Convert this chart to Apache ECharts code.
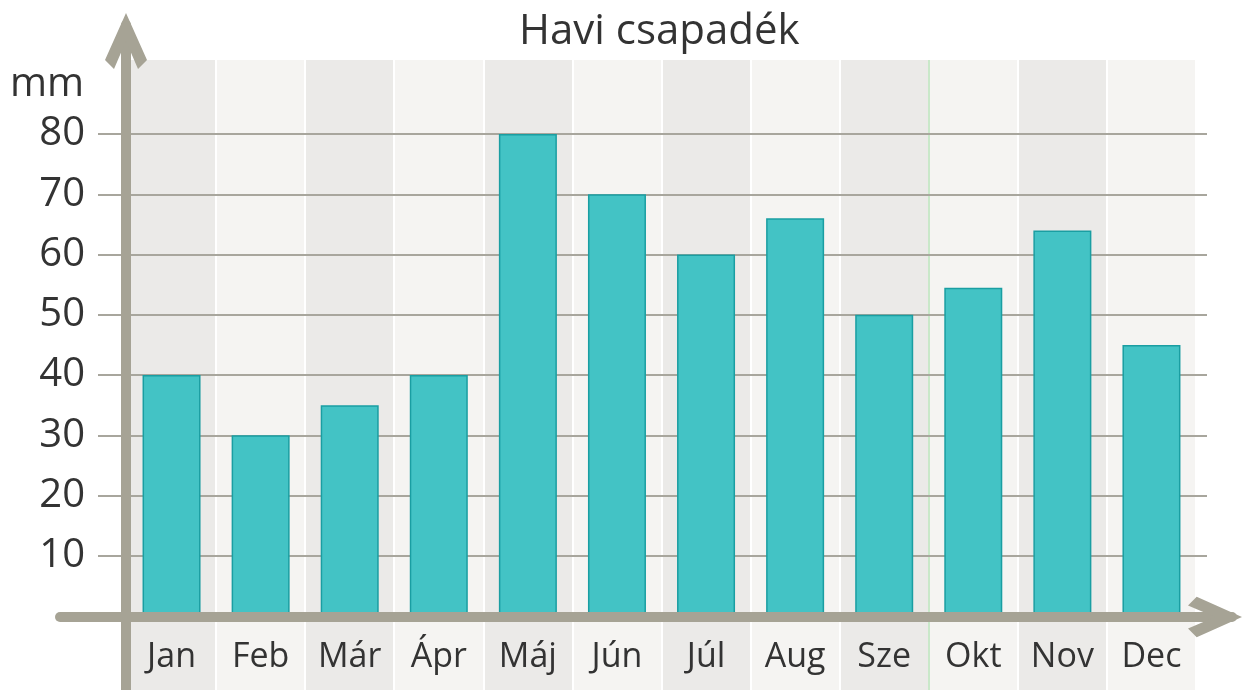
<!DOCTYPE html>
<html>
<head>
<meta charset="utf-8">
<script src="https://cdn.jsdelivr.net/npm/echarts@6/dist/echarts.min.js"></script>
<style>
html,body{margin:0;padding:0;background:#fff;}
#c{width:1250px;height:690px;}
</style>
</head>
<body>
<div id="c"></div>
<script>
const categories = ['Jan','Feb','Már','Ápr','Máj','Jún','Júl','Aug','Sze','Okt','Nov','Dec'];
const rainfall = [40, 30, 35, 40, 80, 70, 60, 66, 50, 54.5, 64, 45];
const chartTitle = 'Havi csapadék';
const unitLabel = 'mm';

const FONT = '"Open Sans", "Noto Sans", sans-serif';
const AXIS = '#a6a395';
const CHEVRON = 'path://M21,0 L42,47 L33,56 L21,28 L9,56 L0,47 Z';
const sepColors = ['#ffffff','#ffffff','#ffffff','#ffffff','#ffffff','#ffffff','#ffffff','#ffffff','#ffffff','#c9e8c9','#ffffff','#ffffff','#ffffff'];

const chart = echarts.init(document.getElementById('c'), null, {renderer: 'canvas'});
chart.setOption({
  animation: false,
  backgroundColor: '#ffffff',
  title: [
    {text: chartTitle, left: 519, top: 11, padding: 0,
     textStyle: {fontFamily: FONT, fontSize: 42, fontWeight: 'normal', color: '#333333'}},
    {text: unitLabel, left: 10, top: 65, padding: 0,
     textStyle: {fontFamily: FONT, fontSize: 40, fontWeight: 'normal', color: '#333333'}}
  ],
  grid: [
    {left: 127, right: 54, top: 60, bottom: 0},      // background stripes
    {left: 98, right: 43, top: 134, bottom: 74},     // grid lines + value labels
    {left: 127, right: 54, top: 134, bottom: 74},    // bars
    {left: 126, right: 1000, top: 25, bottom: 0},    // y arrow
    {left: 60, right: 18, top: 100, bottom: 73}      // x arrow
  ],
  xAxis: [
    {gridIndex: 0, type: 'category', data: categories, z: 0,
     axisLine: {show: false}, axisTick: {show: false}, axisLabel: {show: false},
     splitArea: {show: true, areaStyle: {color: ['#ebeae8', '#f5f4f2']}},
     splitLine: {show: true, lineStyle: {color: sepColors, width: 2}}},
    {gridIndex: 1, type: 'value', show: false},
    {gridIndex: 2, type: 'category', data: categories, z: 1,
     axisLine: {show: false}, axisTick: {show: false},
     axisLabel: {margin: 24, fontFamily: FONT, fontSize: 34, color: '#333333'}},
    {gridIndex: 3, type: 'value', show: false},
    {gridIndex: 4, type: 'value', min: 0, max: 1, z: 10,
     axisLine: {show: true, onZero: false, symbol: ['none', CHEVRON], symbolSize: [42, 54], symbolOffset: [0, -17],
                lineStyle: {color: AXIS, width: 10}},
     axisTick: {show: false}, axisLabel: {show: false}, splitLine: {show: false}}
  ],
  yAxis: [
    {gridIndex: 0, type: 'value', show: false},
    {gridIndex: 1, type: 'value', min: 0, max: 80, interval: 10, z: 1,
     axisLine: {show: false}, axisTick: {show: false},
     axisLabel: {margin: 13, fontFamily: FONT, fontSize: 40, color: '#333333',
                 formatter: v => v === 0 ? '' : String(v)},
     splitLine: {show: true, lineStyle: {color: '#a8a69d', width: 2}}},
    {gridIndex: 2, type: 'value', min: 0, max: 80, show: false},
    {gridIndex: 3, type: 'value', min: 0, max: 1, z: 10,
     axisLine: {show: true, onZero: false, symbol: ['none', CHEVRON], symbolSize: [42, 58], symbolOffset: [0, -16],
                lineStyle: {color: AXIS, width: 10}},
     axisTick: {show: false}, axisLabel: {show: false}, splitLine: {show: false}},
    {gridIndex: 4, type: 'value', show: false}
  ],
  series: [{
    type: 'bar',
    xAxisIndex: 2,
    yAxisIndex: 2,
    data: rainfall,
    barWidth: 58,
    z: 2,
    itemStyle: {color: '#43c3c5', borderColor: '#1a9ea2', borderWidth: 1.5}
  }]
});
</script>
</body>
</html>
